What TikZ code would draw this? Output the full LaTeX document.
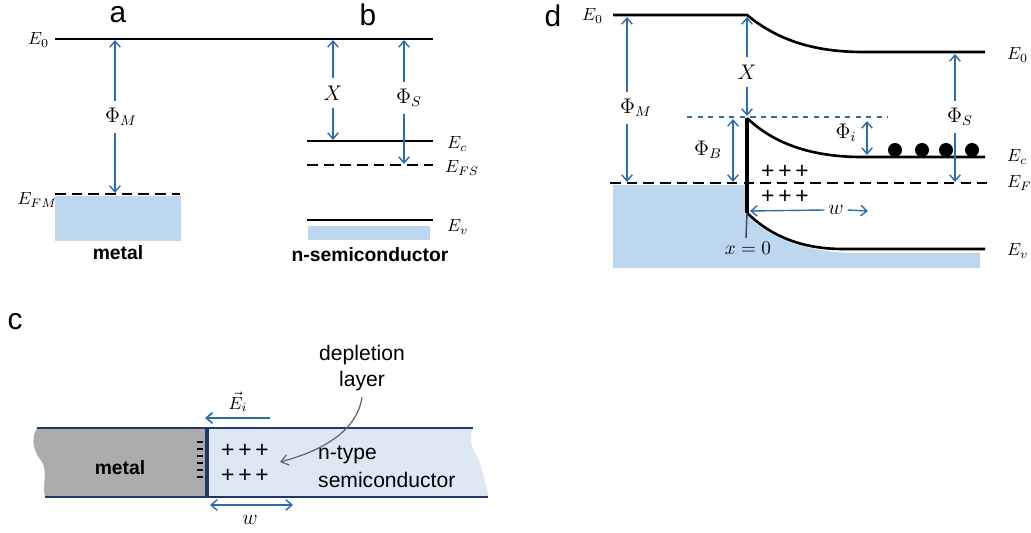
\documentclass[tikz,border=0pt]{standalone}
\usepackage{amsmath}
\usepackage{fontspec}
\setsansfont{Liberation Sans}
\usetikzlibrary{positioning,arrows.meta,calc}
\definecolor{bandblue}{RGB}{46,110,165}
\definecolor{fillblue}{RGB}{189,215,238}
\definecolor{paleblue}{RGB}{222,232,244}
\definecolor{navy}{RGB}{31,56,100}
\definecolor{metalgray}{RGB}{172,172,172}

\tikzset{
  bandline/.style={line width=1.2pt},
  fermi/.style={line width=1.2pt,dash pattern=on 6pt off 3.5pt},
  gap/.style={draw=bandblue,line width=0.8pt,-{Straight Barb[length=3.5pt,width=6pt]}},
  dgap/.style={draw=bandblue,line width=0.8pt,{Straight Barb[length=3.5pt,width=6pt]}-{Straight Barb[length=3.5pt,width=6pt]}},
  lbl/.style={inner sep=1pt,font=\fontsize{10}{11}\selectfont},
  glbl/.style={inner sep=4pt,font=\fontsize{12}{13}\selectfont},
  panel/.style={font=\sffamily\fontsize{17}{18}\selectfont},
  mat/.style={font=\sffamily\bfseries\fontsize{11}{12}\selectfont},
  plus/.style={font=\sffamily\fontsize{13}{14}\selectfont},
}

\begin{document}
\begin{tikzpicture}[x=0.02cm,y=-0.02cm]
  \useasboundingbox (0,0) rectangle (1031,533);

  % a and b: isolated metal and semiconductor
  \node[panel] (pa) at (118,15) {a};
  \node[panel] (pb) at (368,15) {b};
  \fill[fillblue] (55,196) rectangle (181,241);
  \fill[fillblue] (308,226) rectangle (430,240);
  \coordinate (vacL) at (55,39);
  \coordinate (vacR) at (433,39);
  \draw[bandline] (vacL) -- (vacR);
  \node[lbl,anchor=east] (e0a) at ($(vacL)+(-4,1)$) {$E_0$};
  \coordinate (fmL) at (55,194);
  \coordinate (fmR) at (180,194);
  \draw[fermi] (fmL) -- (fmR);
  \node[lbl,anchor=east] (efm) at ($(fmL)+(4,6)$) {$E_{FM}$};
  \node[mat] (metA) at (118,253) {metal};
  \coordinate (ecL) at (307,141);
  \coordinate (ecR) at (433,141);
  \draw[bandline] (ecL) -- (ecR);
  \node[lbl,anchor=west] (eclb) at ($(ecR)+(12,3)$) {$E_c$};
  \coordinate (fsL) at (307,165);
  \coordinate (fsR) at (433,165);
  \draw[fermi] (fsL) -- (fsR);
  \node[lbl,anchor=west] (efs) at ($(fsR)+(10,3)$) {$E_{FS}$};
  \coordinate (evL) at (307,220);
  \coordinate (evR) at (433,220);
  \draw[bandline] (evL) -- (evR);
  \node[lbl,anchor=west] (evlb) at ($(evR)+(12,7)$) {$E_v$};
  \node[mat] (semB) at (370,255) {n-semiconductor};

  \node[glbl] (phmA) at (121,117) {$\Phi_M$};
  \draw[gap] (phmA.north -| 115,0) -- (115,40);
  \draw[gap] (phmA.south -| 115,0) -- (115,193);
  \node[glbl] (chiB) at (333,93) {$X$};
  \draw[gap] (chiB.north) -- (333,40);
  \draw[gap] (chiB.south) -- (333,140);
  \node[glbl] (phsB) at (409,98) {$\Phi_S$};
  \draw[gap] (phsB.north -| 404,0) -- (404,40);
  \draw[gap] (phsB.south -| 404,0) -- (404,164);

  % c: the junction
  \node[panel] (pc) at (15,322) {c};
  \fill[metalgray] (37,428) -- (207,428) -- (207,497) -- (45,497)
    .. controls (42,485) and (48,472) .. (42,462)
    .. controls (34,452) and (30,440) .. (37,428) -- cycle;
  \fill[paleblue] (207,428) -- (473,428)
    .. controls (466,445) and (478,455) .. (481,466)
    .. controls (484,480) and (488,490) .. (488,497) -- (207,497) -- cycle;
  \draw[navy,line width=1.4pt] (37,428) -- (473,428);
  \draw[navy,line width=1.4pt] (45,497) -- (488,497);
  \draw[navy,line width=2pt] (207,428) -- (207,497);
  \foreach \y in {442,449,456,463,470,477}
    \draw[line width=0.8pt] (197,\y) -- (203,\y);
  \node[mat] (metC) at (120,468) {metal};
  \node[plus] (plusC1) at (245,451) {+\,+\,+};
  \node[plus] (plusC2) at (245,476) {+\,+\,+};
  \node[font=\sffamily\fontsize{12}{16}\selectfont,align=left,anchor=west] (semC) at (312,467) {n-type\\semiconductor};
  \node[font=\sffamily\fontsize{12}{15}\selectfont,align=center] (depl) at (362,368) {depletion\\layer};
  \coordinate (deplTip) at (280,462);
  \draw[gray!80!black,line width=0.7pt,-{Straight Barb[length=4pt,width=6pt]}]
    (depl.south) .. controls (357,430) and (325,450) .. (deplTip);
  \coordinate (eiR) at (270,418);
  \coordinate (eiL) at (205,418);
  \draw[gap,line width=1pt] (eiR) -- (eiL);
  \node[inner sep=0pt,font=\fontsize{10}{11}\selectfont] (eiLbl) at (238,402) {$\vec{E}_i$};
  \coordinate (wcL) at (210,505);
  \coordinate (wcR) at (293,505);
  \draw[dgap] (wcL) -- (wcR);
  \node[font=\fontsize{13}{14}\selectfont] (wcLbl) at (250,520) {$w$};

  % d: after contact
  \node[panel] (pd) at (553,16) {d};
  \fill[fillblue] (613,185) -- (745,185) -- (745,214)
    .. controls (768,236) and (800,251) .. (850,253) -- (980,253)
    -- (980,268) -- (613,268) -- cycle;
  \coordinate (v0L) at (613,15);
  \coordinate (v0M) at (747,15);
  \coordinate (v0R) at (985,52);
  \draw[bandline,line width=1.5pt] (v0L) -- (v0M)
    .. controls (775,38) and (810,52) .. (863,52) -- (v0R);
  \node[lbl,anchor=east] (e0dL) at ($(v0L)+(-8,1)$) {$E_0$};
  \node[lbl,anchor=west] (e0dR) at ($(v0R)+(20,3)$) {$E_0$};
  \coordinate (ecTop) at (747,118);
  \coordinate (ecD) at (985,157);
  \draw[bandline,line width=1.5pt] (ecTop)
    .. controls (770,140) and (805,157) .. (862,157) -- (ecD);
  \node[lbl,anchor=west] (ecdL) at ($(ecD)+(20,0)$) {$E_c$};
  \coordinate (evTop) at (747,213);
  \coordinate (evD) at (985,249);
  \draw[bandline,line width=1.5pt] (evTop)
    .. controls (770,235) and (800,249) .. (843,249) -- (evD);
  \node[lbl,anchor=west] (evdL) at ($(evD)+(20,2)$) {$E_v$};
  \draw[line width=1.8pt] (ecTop) -- (evTop);
  \coordinate (xzero) at (746,238);
  \draw[black!75,line width=0.8pt] (evTop) -- (xzero);
  \node[font=\fontsize{11}{12}\selectfont] (x0) at (748,248) {$x=0$};
  \coordinate (efL) at (610,183);
  \coordinate (efR) at (987,183);
  \draw[fermi,line width=1.4pt] (efL) -- (efR);
  \node[lbl,anchor=west] (efdL) at ($(efR)+(18,0)$) {$E_F$};
  \draw[bandblue,line width=0.6pt,dashed] (687,117) -- (888,117);
  \foreach \x in {895,922,946,972}
    \fill (\x,150) circle (7);
  \node[plus] (plusD1) at (785,172) {+\,+\,+};
  \node[plus] (plusD2) at (785,197) {+\,+\,+};

  \node[glbl] (phmD) at (636,108) {$\Phi_M$};
  \draw[gap] (phmD.north -| 627,0) -- (627,17);
  \draw[gap] (phmD.south -| 627,0) -- (627,182);
  \node[glbl] (chiD) at (747,72) {$X$};
  \draw[gap] (chiD.north) -- (747,17);
  \draw[gap] (chiD.south) -- (747,116);
  \node[glbl] (phbD) at (708,150) {$\Phi_B$};
  \draw[dgap] (733,119) -- (733,182);
  \node[glbl] (phiD) at (846,133) {$\Phi_i$};
  \draw[dgap] (867,121) -- (867,155);
  \node[glbl] (phsD) at (960,117) {$\Phi_S$};
  \draw[gap] (phsD.north -| 955,0) -- (955,54);
  \draw[gap] (phsD.south -| 955,0) -- (955,182);
  \node[font=\fontsize{12}{13}\selectfont,inner sep=2pt] (wD) at (836,210) {$w$};
  \draw[gap] (wD.west) -- (750,211);
  \draw[gap] (wD.east) -- (868,211);
\end{tikzpicture}
\end{document}
